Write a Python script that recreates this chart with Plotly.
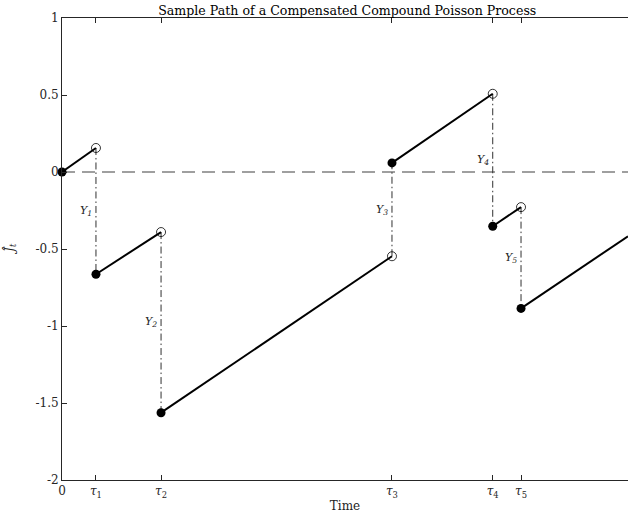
import plotly.graph_objects as go

# Data
T_END = 10.0
jump_times = [0.60, 1.75, 5.83, 7.61, 8.11]
pre_jump = [0.156, -0.39, -0.547, 0.508, -0.228]
post_jump = [-0.664, -1.563, 0.059, -0.352, -0.886]
start_value = 0.0
end_value = -0.417
jump_labels = ["Y<sub>1</sub>", "Y<sub>2</sub>", "Y<sub>3</sub>", "Y<sub>4</sub>", "Y<sub>5</sub>"]
x_tick_vals = [0] + jump_times
x_tick_text = ["0", "<i>τ</i><sub>1</sub>", "<i>τ</i><sub>2</sub>", "<i>τ</i><sub>3</sub>",
               "<i>τ</i><sub>4</sub>", "<i>τ</i><sub>5</sub>"]
y_tick_vals = [1, 0.5, 0, -0.5, -1, -1.5, -2]
y_tick_text = ["1", "0.5", "0", "-0.5", "-1", "-1.5", "-2"]

FONT = "DejaVu Serif"

fig = go.Figure()

# zero reference line
fig.add_trace(go.Scatter(x=[0, T_END], y=[0, 0], mode="lines",
                         line=dict(color="#404040", width=1.2, dash="13px,7px"),
                         hoverinfo="skip", showlegend=False))

# vertical jump lines
vx, vy = [], []
for t, a, b in zip(jump_times, pre_jump, post_jump):
    vx += [t, t, None]
    vy += [a, b, None]
fig.add_trace(go.Scatter(x=vx, y=vy, mode="lines",
                         line=dict(color="#303030", width=1, dash="7px,3px,1.5px,3px"),
                         hoverinfo="skip", showlegend=False))

# drift segments
starts_t = [0] + jump_times
starts_v = [start_value] + post_jump
ends_t = jump_times + [T_END]
ends_v = pre_jump + [end_value]
sx, sy = [], []
for t0, v0, t1, v1 in zip(starts_t, starts_v, ends_t, ends_v):
    sx += [t0, t1, None]
    sy += [v0, v1, None]
fig.add_trace(go.Scatter(x=sx, y=sy, mode="lines",
                         line=dict(color="black", width=2),
                         hoverinfo="skip", showlegend=False))

# open circles (left limits)
fig.add_trace(go.Scatter(x=jump_times, y=pre_jump, mode="markers", cliponaxis=False,
                         marker=dict(symbol="circle-open", size=9, color="black",
                                     line=dict(width=0.8, color="black")),
                         showlegend=False))
# filled circles
fig.add_trace(go.Scatter(x=[0] + jump_times, y=[start_value] + post_jump, mode="markers",
                         cliponaxis=False,
                         marker=dict(symbol="circle", size=9, color="black"),
                         showlegend=False))

# jump labels
for t, a, b, lab in zip(jump_times, pre_jump, post_jump, jump_labels):
    fig.add_annotation(x=t, y=(a + b) / 2, text="<i>" + lab + "</i>",
                       showarrow=False, xanchor="right", xshift=-2,
                       font=dict(family=FONT, size=11, color="#222"))

fig.add_annotation(x=-0.092, y=0.5, xref="paper", yref="paper",
                   text="<i>Ĵ</i><sub><i>t</i></sub>",
                   showarrow=False, textangle=-90, font=dict(family=FONT, size=12, color="#222"),
                   xanchor="center", yanchor="middle")
fig.update_layout(
    width=628, height=514,
    margin=dict(l=62, r=0, t=18, b=34),
    paper_bgcolor="white", plot_bgcolor="white",
    font=dict(family=FONT, size=12, color="#262626"),
    title=dict(text="Sample Path of a Compensated Compound Poisson Process",
               x=0.504, xref="paper", xanchor="center", y=0.988, yanchor="top",
               font=dict(family=FONT, size=12.6, color="black")),
    xaxis=dict(range=[0, T_END], tickvals=x_tick_vals, ticktext=x_tick_text,
               showgrid=False, zeroline=False, showline=True, linecolor="#262626",
               linewidth=1, mirror="ticks", ticks="inside", ticklen=5, tickcolor="#262626",
               title=dict(text="Time", standoff=2, font=dict(family=FONT, size=12, color="#222")),
               tickfont=dict(family=FONT, size=12)),
    yaxis=dict(range=[-2, 1], tickvals=y_tick_vals, ticktext=y_tick_text,
               showgrid=False, zeroline=False, showline=True, linecolor="#262626",
               linewidth=1, ticks="inside", ticklen=5, tickcolor="#262626",
               tickfont=dict(family=FONT, size=12)),
)

fig.write_html("out.html")
